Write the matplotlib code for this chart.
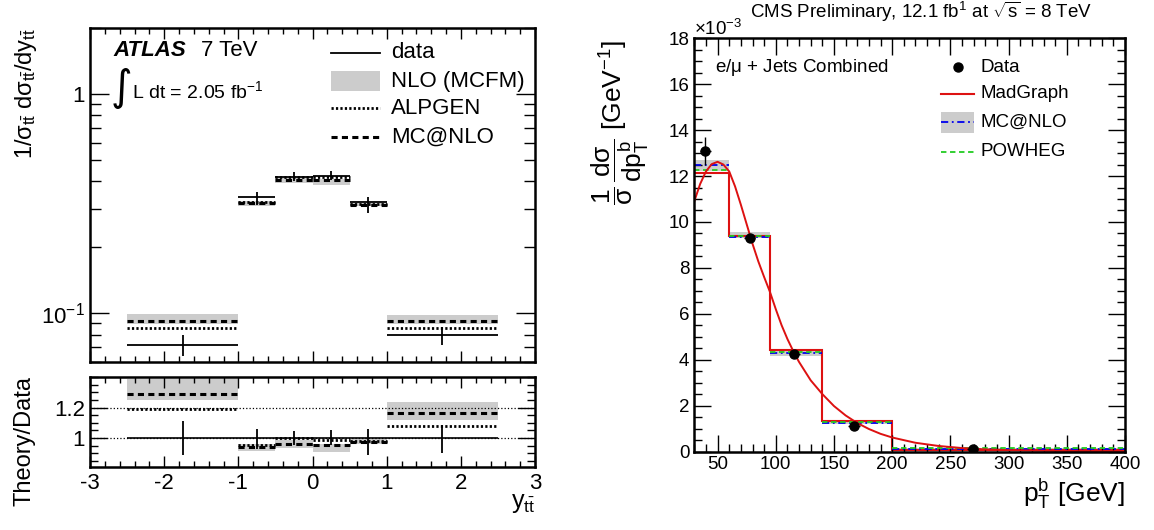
import numpy as np
import matplotlib
matplotlib.use("Agg")
import matplotlib.pyplot as plt
from matplotlib.lines import Line2D
from matplotlib.patches import Rectangle
from matplotlib.ticker import MultipleLocator, FixedLocator, NullFormatter, LogLocator

plt.rcParams['font.family'] = ['Liberation Sans', 'DejaVu Sans']
plt.rcParams['mathtext.fontset'] = 'custom'
plt.rcParams['mathtext.rm'] = 'Liberation Sans'
plt.rcParams['mathtext.it'] = 'Liberation Sans'
plt.rcParams['mathtext.bf'] = 'Liberation Sans:bold'
plt.rcParams['axes.unicode_minus'] = False

# ---- left panel: ATLAS y_ttbar ----
y_edges = [-2.5, -1.0, -0.5, 0.0, 0.5, 1.0, 2.5]
y_centers = [-1.75, -0.75, -0.25, 0.25, 0.75, 1.75]
data_y = [0.0717, 0.338, 0.420, 0.424, 0.321, 0.0797]
data_err_up = [1.113, 1.06, 1.045, 1.053, 1.06, 1.085]    # relative to data
data_err_dn = [0.889, 0.926, 0.953, 0.953, 0.889, 0.904]
alpgen_ratio = [1.19, 0.957, 1.0, 0.985, 0.983, 1.077]
mcatnlo_ratio = [1.287, 0.938, 0.962, 0.953, 0.972, 1.162]
mcfm_lo = [1.247, 0.917, 0.932, 0.911, 0.960, 1.121]
mcfm_hi = [1.39, 0.964, 0.985, 0.964, 0.994, 1.236]

# ---- right panel: CMS b-jet pT (units of 1e-3 GeV^-1) ----
pt_edges = [30, 60, 95, 140, 200, 400]
madgraph = [12.15, 9.39, 4.40, 1.31, 0.06]
mcnlo = [12.50, 9.36, 4.27, 1.25, 0.12]
mcnlo_lo = [12.22, 9.28, 4.18, 1.19, 0.09]
mcnlo_hi = [12.70, 9.55, 4.36, 1.33, 0.16]
powheg = [12.26, 9.38, 4.32, 1.29, 0.145]
data_pt = [39.5, 77.5, 116, 167, 269]
data_val = [13.1, 9.31, 4.24, 1.13, 0.12]
data_yerr = [0.6, 0.12, 0.1, 0.08, 0.03]
data_xerr = [5, 5, 5, 5, 5]
# smooth MadGraph curve
curve_x = [30, 35, 40, 45, 50, 55, 60, 65, 70, 75, 80, 85, 90, 95, 100, 105, 110, 116,
           120, 130, 140, 150, 160, 170, 180, 190, 200, 220, 240, 260, 280, 300, 330, 360, 400]
curve_y = [10.9, 11.65, 12.2, 12.52, 12.62, 12.5, 12.2, 11.55, 10.75, 9.9, 9.05, 8.28, 7.6,
           6.95, 6.2, 5.5, 4.9, 4.27, 3.9, 3.1, 2.5, 1.98, 1.57, 1.24, 0.98, 0.77, 0.61,
           0.38, 0.24, 0.15, 0.09, 0.06, 0.03, 0.015, 0.005]

W, H = 1154, 530
fig = plt.figure(figsize=(W / 100, H / 100), dpi=100)


def box(x0, y0, x1, y1):
    return [x0 / W, 1 - y1 / H, (x1 - x0) / W, (y1 - y0) / H]


axT = fig.add_axes(box(90, 28, 535, 362))
axB = fig.add_axes(box(90, 377, 535, 467))
axC = fig.add_axes(box(694.3, 38.3, 1125, 451.5))

band_col = '#cccccc'
ed = np.array(y_edges)
lefts, rights, widths = ed[:-1], ed[1:], np.diff(ed)
dy = np.array(data_y)
up = np.array(data_err_up)
dn = np.array(data_err_dn)
alp = np.array(alpgen_ratio)
mcn = np.array(mcatnlo_ratio)
lo = np.array(mcfm_lo)
hi = np.array(mcfm_hi)

dash = (0, (2.0, 1.4))
dots = (0, (0.8, 0.8))

# top panel
axT.bar(lefts, dy * (hi - lo), width=widths, bottom=dy * lo, align='edge', color=band_col, lw=0)
axT.hlines(dy * alp, lefts, rights, colors='k', linestyles=dots, lw=2.0)
axT.hlines(dy * mcn, lefts, rights, colors='k', linestyles=dash, lw=2.2)
axT.hlines(dy, lefts, rights, colors='k', lw=1.3)
axT.vlines(y_centers, dy * dn, dy * up, colors='k', lw=1.3)
axT.set_yscale('log')
axT.set_xlim(-3, 3)
axT.set_ylim(0.06, 2.0)
axT.set_yticks([0.1, 1])
axT.set_yticklabels(['$10^{-1}$', '1'])
axT.yaxis.set_minor_locator(LogLocator(base=10, subs=np.arange(2, 10)))
axT.yaxis.set_minor_formatter(NullFormatter())
axT.xaxis.set_major_locator(MultipleLocator(1))
axT.xaxis.set_minor_locator(MultipleLocator(0.2))
axT.set_xticklabels([])
axT.tick_params(axis='x', which='major', length=8)
axT.tick_params(axis='x', which='minor', length=4)
axT.tick_params(axis='y', which='major', length=14)
axT.tick_params(axis='y', which='minor', length=8)

# ratio panel
axB.axhline(1.0, color='k', ls=':', lw=0.9)
axB.axhline(1.2, color='k', ls=':', lw=0.9)
axB.bar(lefts, hi - lo, width=widths, bottom=lo, align='edge', color=band_col, lw=0)
axB.hlines(alp, lefts, rights, colors='k', linestyles=dots, lw=2.0)
axB.hlines(mcn, lefts, rights, colors='k', linestyles=dash, lw=2.2)
axB.hlines([1.0], [y_edges[0]], [y_edges[-1]], colors='k', lw=1.2)
axB.vlines(y_centers, dn, up, colors='k', lw=1.3)
axB.set_xlim(-3, 3)
axB.set_ylim(0.81, 1.4)
axB.yaxis.set_major_locator(FixedLocator([1.0, 1.2]))
axB.set_yticklabels(['1', '1.2'])
axB.yaxis.set_minor_locator(MultipleLocator(0.05))
axB.xaxis.set_major_locator(MultipleLocator(1))
axB.xaxis.set_minor_locator(MultipleLocator(0.2))
axB.tick_params(axis='x', which='major', length=8, pad=4)
axB.tick_params(axis='x', which='minor', length=4)
axB.tick_params(axis='y', which='major', length=12)
axB.tick_params(axis='y', which='minor', length=6)

for ax in (axT, axB):
    ax.tick_params(which='both', direction='in', top=True, right=True, width=1, labelsize=16)
    for s in ax.spines.values():
        s.set_linewidth(1.8)

# right panel
ped = np.array(pt_edges)
axC.bar(ped[:-1], np.array(mcnlo_hi) - np.array(mcnlo_lo), width=np.diff(ped),
        bottom=mcnlo_lo, align='edge', color=band_col, lw=0)
axC.hlines(mcnlo, ped[:-1], ped[1:], colors='#0000ee', linestyles=(0, (4, 2, 1, 2)), lw=1.3)
axC.hlines(powheg, ped[:-1], ped[1:], colors='#22cc22', linestyles=(0, (3, 2)), lw=1.3)
axC.stairs(madgraph, ped, baseline=None, color='#dd1111', lw=1.5)
axC.plot(curve_x, curve_y, color='#dd1111', lw=1.4)
axC.errorbar(data_pt, data_val, yerr=data_yerr, xerr=data_xerr, fmt='o', color='k',
             ms=6.5, elinewidth=1.0, capsize=0, zorder=5)
axC.set_xlim(30, 400)
axC.set_ylim(0, 18)
axC.xaxis.set_major_locator(MultipleLocator(50))
axC.xaxis.set_minor_locator(MultipleLocator(10))
axC.yaxis.set_major_locator(MultipleLocator(2))
axC.yaxis.set_minor_locator(MultipleLocator(0.5))
axC.tick_params(which='both', direction='in', top=True, right=True, width=1, labelsize=13.5)
axC.tick_params(which='major', length=12)
axC.tick_params(which='minor', length=6)
for s in axC.spines.values():
    s.set_linewidth(1.8)

# ---- texts, left ----
fig.text(113 / W, 1 - 50 / H, 'ATLAS', fontsize=16, fontweight='bold', fontstyle='italic',
         va='center')
fig.text(201 / W, 1 - 50 / H, '7 TeV', fontsize=16, va='center')
fig.text(111 / W, 1 - 88 / H, '\u222b', fontsize=30, va='center', family='DejaVu Sans')
fig.text(132 / W, 1 - 91 / H, 'L dt = 2.05 fb$^{-1}$', fontsize=14, va='center')
fig.text(26 / W, 1 - 28 / H, r'$1/\sigma_{t\bar{t}}\ d\sigma_{t\bar{t}}/dy_{t\bar{t}}$',
         fontsize=17, rotation=90, ha='center', va='top')
fig.text(24 / W, 1 - 441 / H, 'Theory/Data', fontsize=17, rotation=90, ha='center', va='center')
fig.text(535 / W, 1 - 503 / H, r'$y_{t\bar{t}}$', fontsize=18, ha='right', va='center')

# legend, left
leg_rows = [53, 81, 108, 137]
fig.add_artist(Line2D([331 / W, 380 / W], [1 - leg_rows[0] / H] * 2, color='k', lw=1.3,
                      transform=fig.transFigure))
fig.add_artist(Rectangle((331 / W, 1 - 91 / H), 49 / W, 20 / H, color=band_col, lw=0,
                         transform=fig.transFigure))
fig.add_artist(Line2D([331 / W, 380 / W], [1 - leg_rows[2] / H] * 2, color='k', lw=2.0,
                      ls=dots, transform=fig.transFigure))
fig.add_artist(Line2D([331 / W, 380 / W], [1 - leg_rows[3] / H] * 2, color='k', lw=2.2,
                      ls=dash, transform=fig.transFigure))
for row, lab in zip(leg_rows, ['data', 'NLO (MCFM)', 'ALPGEN', 'MC@NLO']):
    fig.text(391 / W, 1 - row / H, lab, fontsize=16, va='center')

# ---- texts, right ----
fig.text(921 / W, 1 - 12 / H, r'CMS Preliminary, 12.1 fb$^{1}$ at $\sqrt{s}$ = 8 TeV',
         fontsize=13.5, ha='center', va='center')
fig.text(694 / W, 1 - 29 / H, r'$\times$10$^{-3}$', fontsize=13.5, ha='left', va='center')
fig.text(715 / W, 1 - 68 / H, r'e/$\mu$ + Jets Combined', fontsize=13.5, va='center')
fig.text(620 / W, 1 - 40 / H, r'$\dfrac{1}{\sigma}\,\dfrac{d\sigma}{dp^{b}_{T}}$ [GeV$^{-1}$]',
         fontsize=19, rotation=90, ha='center', va='top')
fig.text(1125 / W, 1 - 494 / H, r'p$^{b}_{T}$ [GeV]', fontsize=19, ha='right', va='center')

rows = [67, 94, 122, 152]
fig.add_artist(Line2D([957.7 / W], [1 - rows[0] / H], marker='o', color='k', ms=6.5,
                      transform=fig.transFigure))
fig.add_artist(Line2D([941 / W, 974 / W], [1 - rows[1] / H] * 2, color='#dd1111', lw=1.5,
                      transform=fig.transFigure))
fig.add_artist(Rectangle((941 / W, 1 - 133 / H), 33 / W, 21 / H, color=band_col, lw=0,
                         transform=fig.transFigure))
fig.add_artist(Line2D([941 / W, 974 / W], [1 - rows[2] / H] * 2, color='#0000ee', lw=1.3,
                      ls=(0, (4, 2, 1, 2)), transform=fig.transFigure))
fig.add_artist(Line2D([941 / W, 974 / W], [1 - rows[3] / H] * 2, color='#22cc22', lw=1.3,
                      ls=(0, (3, 2)), transform=fig.transFigure))
for row, lab in zip(rows, ['Data', 'MadGraph', 'MC@NLO', 'POWHEG']):
    fig.text(981 / W, 1 - row / H, lab, fontsize=13.5, va='center')

fig.savefig('out.png', dpi=100)
